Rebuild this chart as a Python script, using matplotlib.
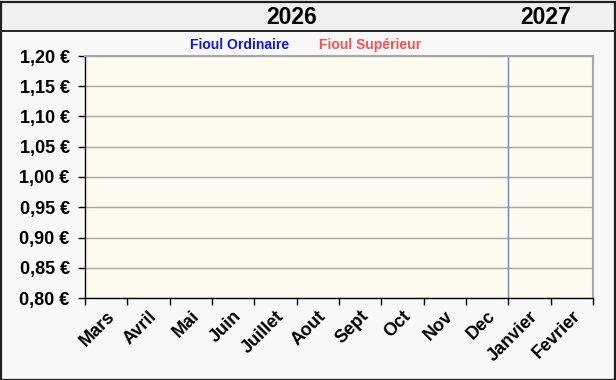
import matplotlib.pyplot as plt
from matplotlib.patches import Rectangle
from matplotlib.lines import Line2D
from matplotlib.ticker import FixedLocator, NullFormatter
import matplotlib.transforms as mtransforms

plt.rcParams['font.family'] = ['Liberation Sans', 'DejaVu Sans']

# data
months = ["Mars", "Avril", "Mai", "Juin", "Juillet", "Aout", "Sept",
          "Oct", "Nov", "Dec", "Janvier", "Fevrier"]
years = ["2026", "2027"]
year_first_month = [0, 10]
year_last_month = [9, 11]
y_ticks = [0.80, 0.85, 0.90, 0.95, 1.00, 1.05, 1.10, 1.15, 1.20]
series_names = ["Fioul Ordinaire", "Fioul Supérieur"]
series_colors = ["#1414E6", "#FF4F4F"]
fioul_ordinaire = []   # no prices published yet
fioul_superieur = []

W, H = 616, 380
fig = plt.figure(figsize=(W / 100, H / 100), dpi=100)
fig.patch.set_facecolor("#F8F8F8")

# top band with the years
fig.patches.append(Rectangle((0, 1 - 31 / H), 1, 31 / H, transform=fig.transFigure,
                             facecolor="#F0F0F0", edgecolor="none", zorder=0))
fig.lines.append(Line2D([0, 1], [1 - 31 / H, 1 - 31 / H], transform=fig.transFigure,
                        color="black", lw=1.2))
fig.patches.append(Rectangle((0.5 / W, 0.5 / H), 1 - 2 / W, 1 - 2 / H,
                             transform=fig.transFigure, facecolor="none",
                             edgecolor="#222222", lw=1.6, zorder=10))

ax = fig.add_axes([85 / W, (H - 298) / H, 508 / W, 242 / H])
ax.set_facecolor("#FFFAF0")

x = [i + 0.5 for i in range(len(fioul_ordinaire))]
ax.plot(x, fioul_ordinaire, color=series_colors[0], lw=2)
ax.plot(x, fioul_superieur, color=series_colors[1], lw=2)

ax.set_xlim(0, len(months))
ax.set_ylim(y_ticks[0], y_ticks[-1])

ax.set_yticks(y_ticks)
ax.set_yticklabels([f"{v:.2f} €".replace(".", ",") for v in y_ticks],
                   fontsize=13, fontweight="bold")
ax.yaxis.grid(True, color="#A8A8A8", lw=1)
ax.set_axisbelow(True)

ax.xaxis.set_major_locator(FixedLocator(range(len(months) + 1)))
ax.xaxis.set_major_formatter(NullFormatter())
ax.xaxis.set_minor_locator(FixedLocator([i + 0.5 for i in range(len(months))]))
ax.set_xticklabels(months, minor=True, rotation=45, ha="right", va="top",
                   rotation_mode="anchor", fontsize=13, fontweight="bold")
ax.tick_params(axis="x", which="minor", length=0, pad=7)
ax.tick_params(axis="both", which="major", length=5, width=1, color="black",
               direction="out")
ax.tick_params(axis="y", pad=6)

for s in ["left", "bottom"]:
    ax.spines[s].set_color("black")
    ax.spines[s].set_linewidth(1)
for s in ["top", "right"]:
    ax.spines[s].set_color("#A8A8A8")
    ax.spines[s].set_linewidth(1.5)

# year separators and labels
trans = mtransforms.blended_transform_factory(ax.transData, fig.transFigure)
for yr, a, b in zip(years, year_first_month, year_last_month):
    if a > 0:
        ax.axvline(a, color="#6A88B4", lw=1)
    fig.text((a + b + 1) / 2 - 0.12, 1 - 17 / H, yr, transform=trans, ha="center",
             va="center", fontsize=16.5, fontweight="bold")

# legend as colored text
fig.text(240 / W, 1 - 45 / H, series_names[0], color=series_colors[0],
         ha="center", va="center", fontsize=10, fontweight="bold")
fig.text(370 / W, 1 - 45 / H, series_names[1], color=series_colors[1],
         ha="center", va="center", fontsize=10, fontweight="bold")

fig.savefig("out.png", dpi=100, facecolor=fig.get_facecolor())
